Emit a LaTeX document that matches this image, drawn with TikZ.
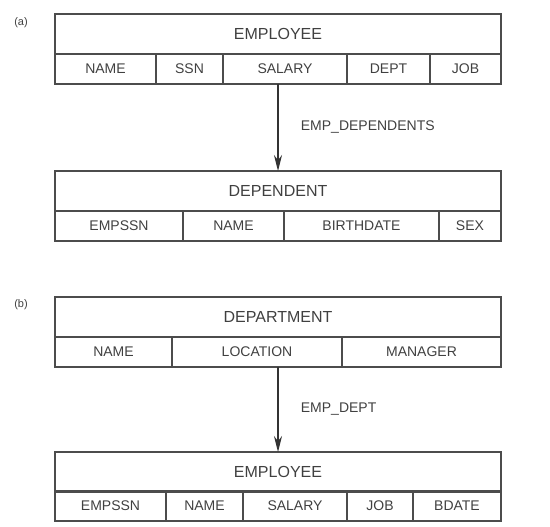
\documentclass[tikz,border=0pt]{standalone}
\usepackage{fontspec}
\setsansfont{Liberation Sans}
\usepackage{tikz}
\usetikzlibrary{arrows.meta, positioning}

\begin{document}
\begin{tikzpicture}[
	x=1pt, y=-1pt,
	font=\sffamily,
	line width=1.1pt,
	draw=black!70,
	text=black!75,
	title/.style={
		draw=black!70,
		minimum width=446pt,
		minimum height=40pt,
		inner sep=0pt,
		outer sep=0pt,
		anchor=north west,
		font=\sffamily\fontsize{16}{16}\selectfont
	},
	field/.style={
		draw=black!70,
		minimum height=30pt,
		inner sep=0pt,
		outer sep=0pt,
		anchor=north west,
		font=\sffamily\fontsize{14}{14}\selectfont
	},
	rel/.style={
		draw=black!80,
		-{Stealth[length=16pt, width=8pt]}
	},
	tag/.style={
		font=\sffamily\fontsize{11}{11}\selectfont
	}
	]
	\useasboundingbox (0,0) rectangle (550,527);

	% (a) EMPLOYEE -> DEPENDENT
	\node[tag] (taga) at (21,23) {(a)};
	\node[title] (empA) at (55,14) {EMPLOYEE};
	\foreach \l/\r/\t [count=\i] in {55/156/NAME, 156/223/SSN, 223/347/SALARY, 347/430/DEPT, 430/501/JOB} {
		\pgfmathsetmacro{\w}{\r-\l}
		\node[field, minimum width=\w pt] (ea\i) at (\l,54) {\t};
	}

	\node[title] (depA) at (55,171) {DEPENDENT};
	\foreach \l/\r/\t [count=\i] in {55/183/EMPSSN, 183/284/NAME, 284/439/BIRTHDATE, 439/501/SEX} {
		\pgfmathsetmacro{\w}{\r-\l}
		\node[field, minimum width=\w pt] (da\i) at (\l,211) {\t};
	}

	\draw[rel] (empA.center |- ea3.south) -- (depA.north)
		node[midway, right=19pt, font=\sffamily\fontsize{14}{14}\selectfont] (lblA) {EMP\_DEPENDENTS};

	% (b) DEPARTMENT -> EMPLOYEE
	\node[tag] (tagb) at (21,305) {(b)};
	\node[title] (deptB) at (55,297) {DEPARTMENT};
	\foreach \l/\r/\t [count=\i] in {55/172/NAME, 172/342/LOCATION, 342/501/MANAGER} {
		\pgfmathsetmacro{\w}{\r-\l}
		\node[field, minimum width=\w pt] (db\i) at (\l,337) {\t};
	}

	\node[title] (empB) at (55,452) {EMPLOYEE};
	\foreach \l/\r/\t [count=\i] in {55/166/EMPSSN, 166/243/NAME, 243/347/SALARY, 347/413/JOB, 413/501/BDATE} {
		\pgfmathsetmacro{\w}{\r-\l}
		\node[field, minimum width=\w pt] (eb\i) at (\l,491) {\t};
	}

	\draw[rel] (deptB.center |- db2.south) -- (empB.north)
		node[midway, right=19pt, font=\sffamily\fontsize{14}{14}\selectfont] (lblB) {EMP\_DEPT};
\end{tikzpicture}
\end{document}
